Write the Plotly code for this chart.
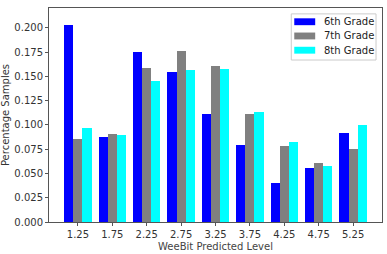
import plotly.graph_objects as go

levels = [1.25, 1.75, 2.25, 2.75, 3.25, 3.75, 4.25, 4.75, 5.25]
grade6 = [0.203, 0.0876, 0.175, 0.155, 0.111, 0.0795, 0.040, 0.056, 0.0916]
grade7 = [0.086, 0.091, 0.159, 0.176, 0.161, 0.111, 0.078, 0.061, 0.075]
grade8 = [0.097, 0.090, 0.145, 0.157, 0.158, 0.113, 0.082, 0.058, 0.1003]
series_names = ["6th Grade", "7th Grade", "8th Grade"]
colors = ["#0000ff", "#808080", "#00ffff"]
yticks = [0.0, 0.025, 0.05, 0.075, 0.1, 0.125, 0.15, 0.175, 0.2]

W, H = 387, 254
ML, MR, MT, MB = 49, 4, 8, 28
PW, PH = W - ML - MR, H - MT - MB


def px(x):
    return (x - ML) / PW


def py(y):
    return (H - MB - y) / PH


bw = 0.5 * 0.8 / 3
fig = go.Figure()
for i, (name, vals, c) in enumerate(zip(series_names, [grade6, grade7, grade8], colors)):
    fig.add_trace(go.Bar(
        x=[v + (i - 1) * bw for v in levels], y=vals, width=bw,
        name=name, marker=dict(color=c, line=dict(width=0)), showlegend=False,
    ))

# matplotlib-style legend box
shapes = [dict(type="rect", xref="paper", yref="paper",
               x0=px(292), x1=px(377), y0=py(61), y1=py(14),
               line=dict(color="#cccccc", width=1), fillcolor="rgba(255,255,255,0.9)", layer="above")]
annotations = []
for k, (name, c) in enumerate(zip(series_names, colors)):
    yc = 22 + k * 14.5
    shapes.append(dict(type="rect", xref="paper", yref="paper",
                       x0=px(295), x1=px(316), y0=py(yc + 3.5), y1=py(yc - 3.5),
                       line=dict(width=0), fillcolor=c, layer="above"))
    annotations.append(dict(xref="paper", yref="paper", x=px(323), y=py(yc),
                            xanchor="left", yanchor="middle", text=name, showarrow=False,
                            font=dict(size=10, color="#222")))

font = "DejaVu Sans, sans-serif"
fig.update_layout(
    width=W, height=H,
    margin=dict(l=ML, r=MR, t=MT, b=MB),
    plot_bgcolor="white", paper_bgcolor="white",
    font=dict(family=font, size=10, color="#333"),
    bargap=0, showlegend=False,
    shapes=shapes, annotations=annotations,
    xaxis=dict(range=[0.83, 5.67], tickmode="array", tickvals=levels,
               ticktext=[f"{v:.2f}" for v in levels],
               showline=True, mirror=True, linecolor="#555", linewidth=1,
               ticks="outside", ticklen=3, tickcolor="#555", showgrid=False, zeroline=False,
               title=dict(text="WeeBit Predicted Level", font=dict(size=10, color="#444"), standoff=3),
               tickfont=dict(size=10, color="#333")),
    yaxis=dict(range=[0, 0.2205], tickmode="array", tickvals=yticks,
               ticktext=[f"{v:.3f}" for v in yticks],
               showline=True, mirror=True, linecolor="#555", linewidth=1,
               ticks="outside", ticklen=3, tickcolor="#555", showgrid=False, zeroline=False,
               title=dict(text="Percentage Samples", font=dict(size=10, color="#333"), standoff=2),
               tickfont=dict(size=10, color="#333")),
)
fig.write_html("out.html")
